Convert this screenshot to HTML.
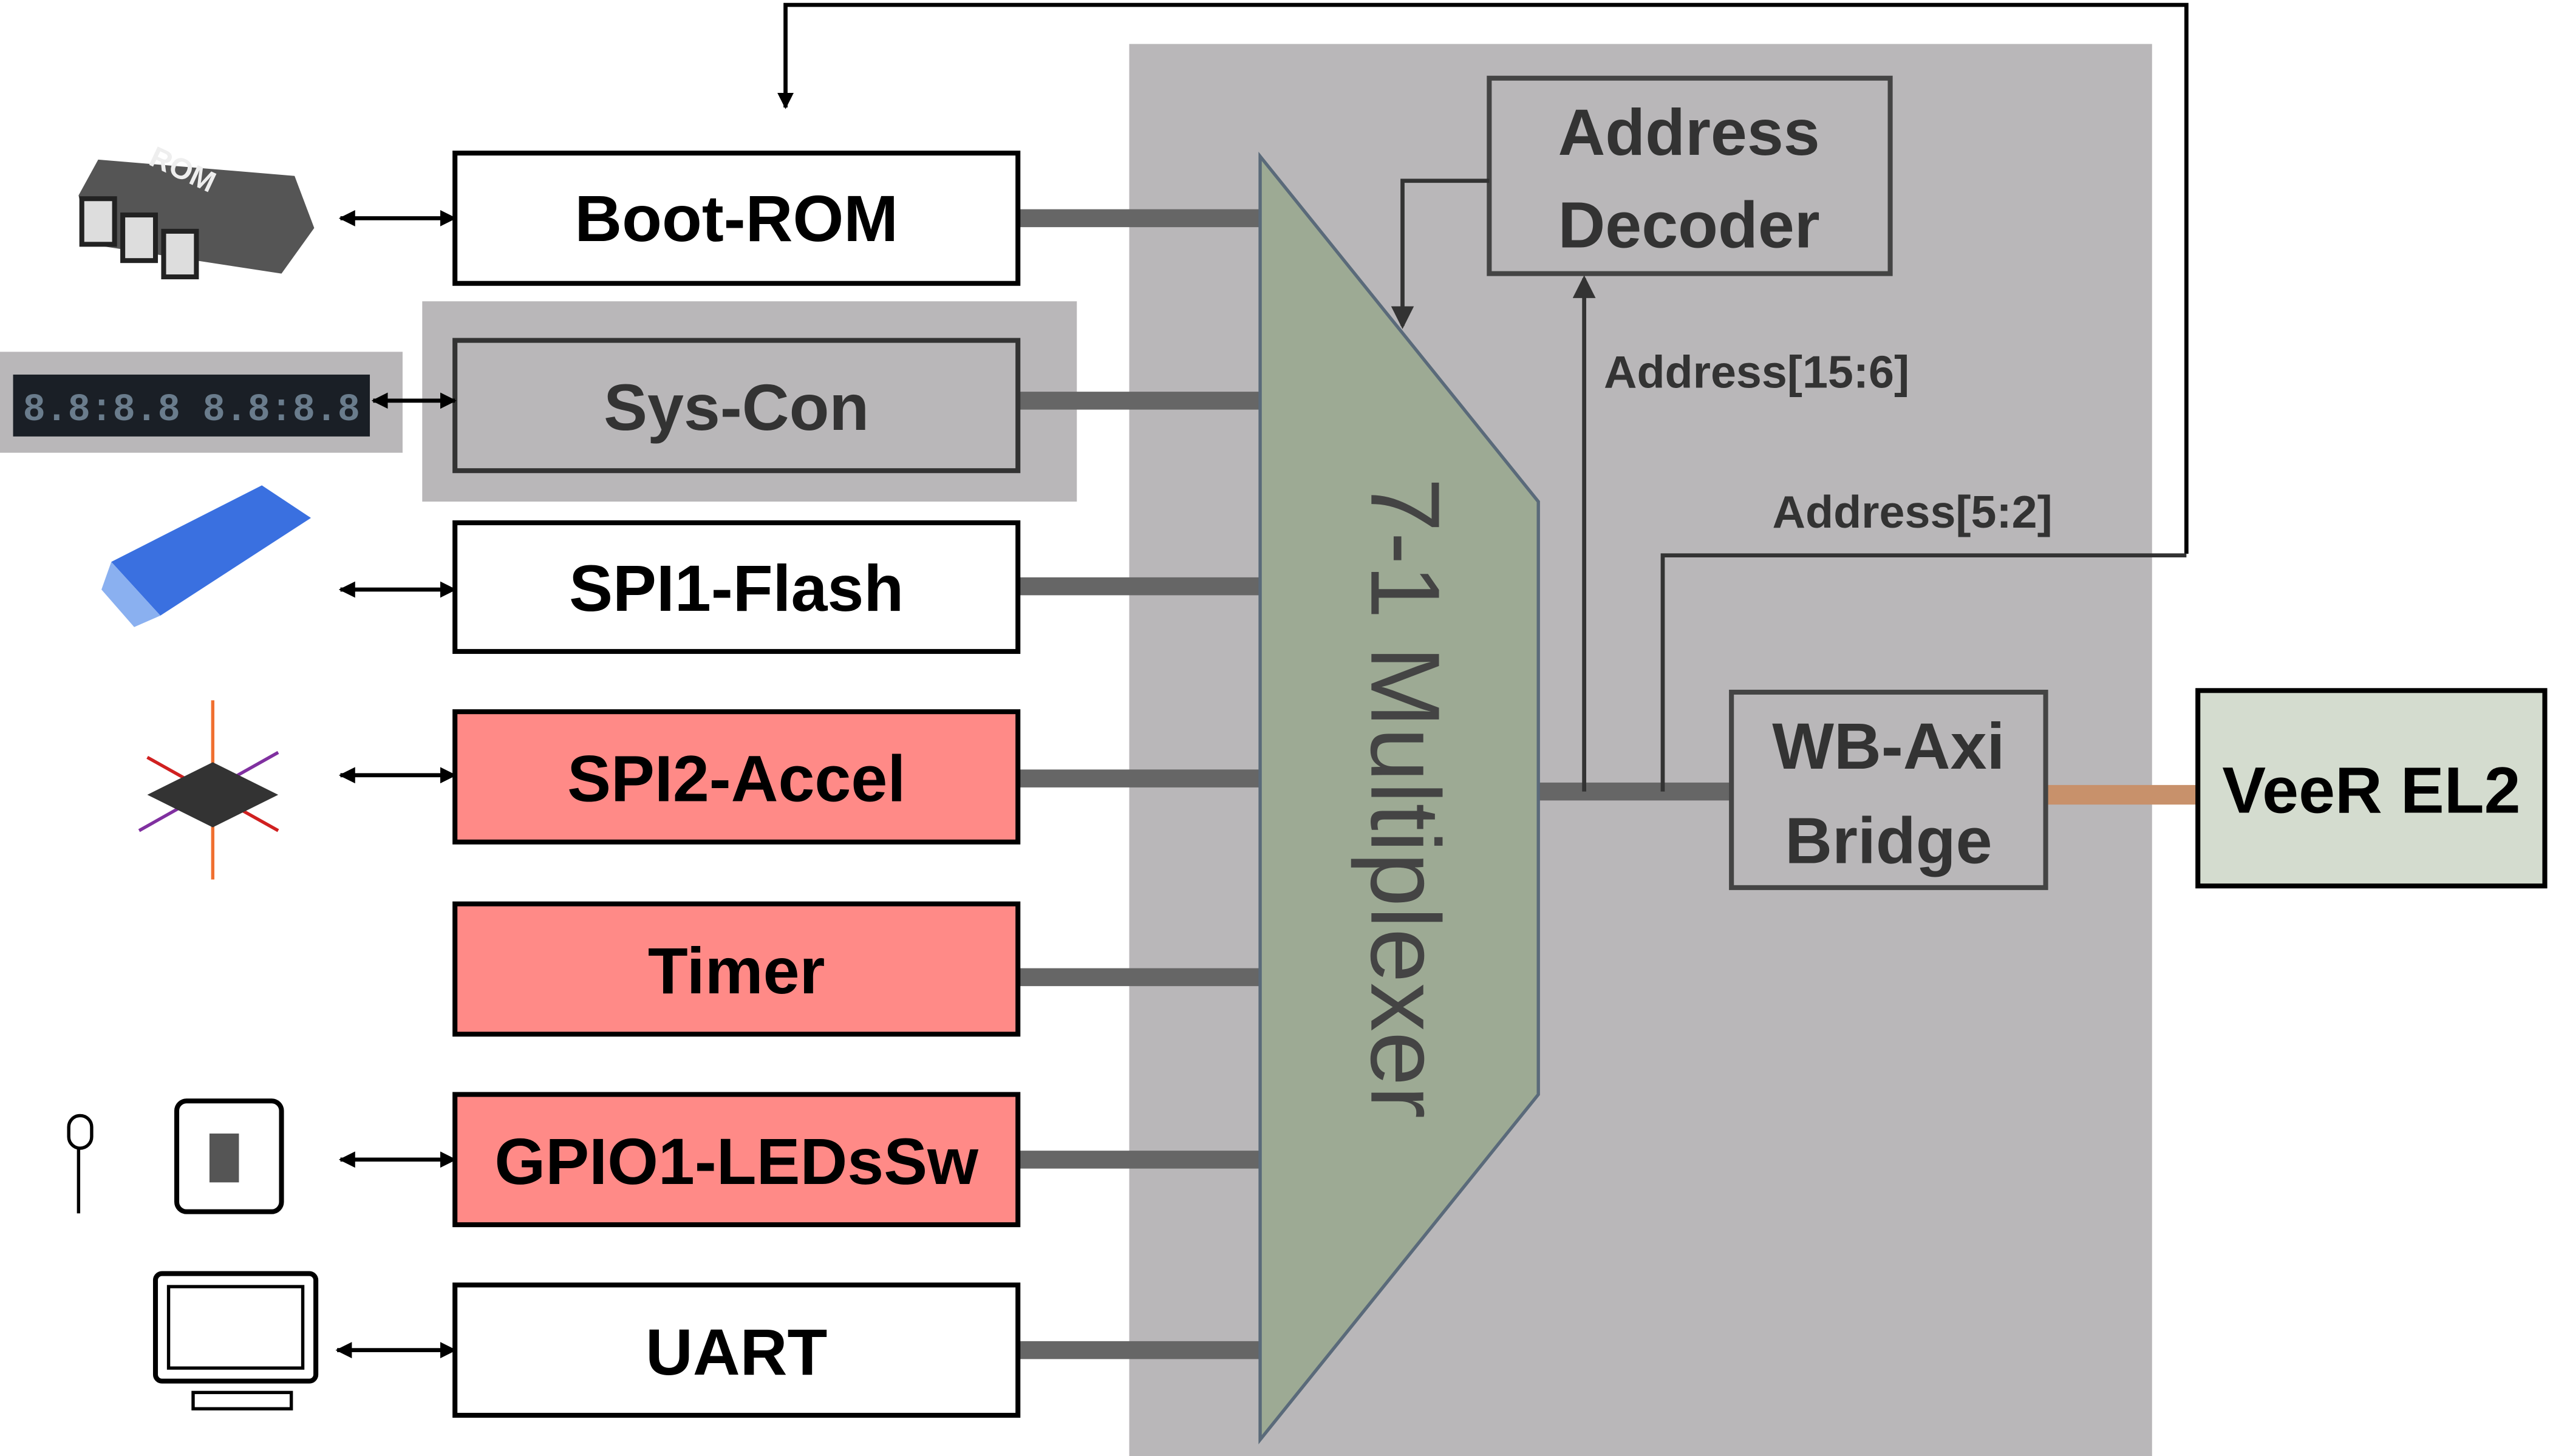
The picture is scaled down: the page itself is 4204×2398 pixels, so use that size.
<!DOCTYPE html>
<html><head><meta charset="utf-8"><style>
html,body{margin:0;padding:0;background:#fff;}
svg{display:block}
text{font-family:"Liberation Sans",sans-serif;font-weight:bold;}
</style></head><body>
<svg width="4204" height="2398" viewBox="0 0 1560 894" preserveAspectRatio="none" xmlns="http://www.w3.org/2000/svg">
<defs>
<marker id="ah" markerWidth="10" markerHeight="10" refX="9" refY="5" orient="auto" markerUnits="userSpaceOnUse">
<path d="M0,0 L10,5 L0,10 z" fill="#000"/></marker>
<marker id="ahs" markerWidth="10" markerHeight="10" refX="1" refY="5" orient="auto" markerUnits="userSpaceOnUse">
<path d="M10,0 L0,5 L10,10 z" fill="#000"/></marker>
<marker id="ag" markerWidth="14" markerHeight="14" refX="12" refY="7" orient="auto" markerUnits="userSpaceOnUse">
<path d="M0,0 L14,7 L0,14 z" fill="#333"/></marker>
</defs>
<rect x="690" y="27" width="625" height="867" fill="#b9b7b9"/>
<rect x="258" y="185" width="400" height="123" fill="#b9b7b9"/>
<rect x="0" y="216" width="246" height="62" fill="#b9b7b9"/>
<rect x="8" y="230" width="218" height="38" fill="#1a1f26"/>
<text x="14" y="258" font-size="24" fill="#6a7c8c" textLength="206" lengthAdjust="spacingAndGlyphs" style="font-family:'Liberation Mono',monospace">8.8:8.8 8.8:8.8</text>
<!-- feedback line -->
<polyline points="1336,340 1336,3 480,3 480,66" fill="none" stroke="#000" stroke-width="2.5" marker-end="url(#ah)"/>
<!-- bars -->
<g stroke="#666" stroke-width="11">
<line x1="622" y1="134" x2="770" y2="134"/>
<line x1="622" y1="246" x2="770" y2="246"/>
<line x1="622" y1="360" x2="770" y2="360"/>
<line x1="622" y1="478" x2="770" y2="478"/>
<line x1="622" y1="600" x2="770" y2="600"/>
<line x1="622" y1="712" x2="770" y2="712"/>
<line x1="622" y1="829" x2="770" y2="829"/>
<line x1="940" y1="486" x2="1058" y2="486"/>
</g>
<line x1="1250" y1="488" x2="1343" y2="488" stroke="#c8916b" stroke-width="12"/>
<!-- boxes -->
<g stroke="#000" stroke-width="3">
<rect x="278" y="94" width="344" height="80" fill="#fff"/>
<rect x="278" y="209" width="344" height="80" fill="#b9b7b9" stroke="#333"/>
<rect x="278" y="321" width="344" height="79" fill="#fff"/>
<rect x="278" y="437" width="344" height="80" fill="#ff8a87"/>
<rect x="278" y="555" width="344" height="80" fill="#ff8a87"/>
<rect x="278" y="672" width="344" height="80" fill="#ff8a87"/>
<rect x="278" y="789" width="344" height="80" fill="#fff"/>
<rect x="1343" y="424" width="212" height="120" fill="#d4dccf"/>
</g>
<g font-size="40" text-anchor="middle" fill="#000">
<text x="450" y="148">Boot-ROM</text>
<text x="450" y="264" fill="#333">Sys-Con</text>
<text x="450" y="375">SPI1-Flash</text>
<text x="450" y="492">SPI2-Accel</text>
<text x="450" y="610">Timer</text>
<text x="450" y="727">GPIO1-LEDsSw</text>
<text x="450" y="844">UART</text>
<text x="1449" y="499">VeeR EL2</text>
</g>
<!-- mux -->
<polygon points="770,96 940,308 940,672 770,884" fill="#9daa94" stroke="#5a6a7a" stroke-width="2"/>
<text transform="translate(838,490) rotate(90)" font-size="60" text-anchor="middle" fill="#444" style="font-weight:normal">7-1 Multiplexer</text>
<!-- decoder -->
<rect x="910" y="48" width="245" height="120" fill="#b9b7b9" stroke="#444" stroke-width="3"/>
<text x="1032" y="95" font-size="40" text-anchor="middle" fill="#333">Address</text>
<text x="1032" y="152" font-size="40" text-anchor="middle" fill="#333">Decoder</text>
<polyline points="910,111 857,111 857,200" fill="none" stroke="#333" stroke-width="2.5" marker-end="url(#ag)"/>
<line x1="968" y1="486" x2="968" y2="171" stroke="#333" stroke-width="2.5" marker-end="url(#ag)"/>
<polyline points="1016,486 1016,341 1336,341" fill="none" stroke="#333" stroke-width="2.5"/>
<text x="980" y="238" font-size="28" fill="#333">Address[15:6]</text>
<text x="1083" y="324" font-size="28" fill="#333">Address[5:2]</text>
<rect x="1058" y="425" width="192" height="120" fill="#b9b7b9" stroke="#444" stroke-width="3"/>
<text x="1154" y="472" font-size="40" text-anchor="middle" fill="#333">WB-Axi</text>
<text x="1154" y="530" font-size="40" text-anchor="middle" fill="#333">Bridge</text>
<!-- double arrows -->
<g stroke="#000" stroke-width="2.5" marker-end="url(#ah)" marker-start="url(#ahs)">
<line x1="208" y1="134" x2="278" y2="134"/>
<line x1="228" y1="246" x2="278" y2="246"/>
<line x1="208" y1="362" x2="278" y2="362"/>
<line x1="208" y1="476" x2="278" y2="476"/>
<line x1="208" y1="712" x2="278" y2="712"/>
<line x1="206" y1="829" x2="278" y2="829"/>
</g>
<!-- icons -->
<g>
<polygon points="60,98 180,108 192,140 172,168 55,150 48,120" fill="#555"/>
<rect x="50" y="122" width="20" height="28" fill="#ddd" stroke="#222" stroke-width="3"/>
<rect x="75" y="132" width="20" height="28" fill="#ddd" stroke="#222" stroke-width="3"/>
<rect x="100" y="142" width="20" height="28" fill="#ddd" stroke="#222" stroke-width="3"/>
<text x="88" y="110" font-size="18" fill="#eee" transform="rotate(25 110 110)">ROM</text>
<polygon points="68,345 160,298 190,318 98,378" fill="#3a70e0"/>
<polygon points="68,345 98,378 82,385 62,362" fill="#8ab0f0"/>
<line x1="130" y1="430" x2="130" y2="540" stroke="#f07030" stroke-width="2"/>
<line x1="90" y1="465" x2="170" y2="510" stroke="#d02020" stroke-width="2"/>
<line x1="85" y1="510" x2="170" y2="462" stroke="#8030a0" stroke-width="2"/>
<polygon points="90,488 130,468 170,488 130,508" fill="#333"/>
<line x1="48" y1="690" x2="48" y2="745" stroke="#000" stroke-width="2"/>
<rect x="42" y="685" width="14" height="20" rx="7" fill="#fff" stroke="#000" stroke-width="2"/>
<rect x="108" y="676" width="64" height="68" rx="6" fill="#fff" stroke="#000" stroke-width="3"/>
<rect x="128" y="696" width="18" height="30" fill="#555"/>
<rect x="95" y="782" width="98" height="66" rx="4" fill="#fff" stroke="#000" stroke-width="3"/>
<rect x="103" y="790" width="82" height="50" fill="#fff" stroke="#000" stroke-width="2"/>
<rect x="118" y="855" width="60" height="10" fill="#fff" stroke="#000" stroke-width="2"/>
</g>
</svg>
</body></html>
